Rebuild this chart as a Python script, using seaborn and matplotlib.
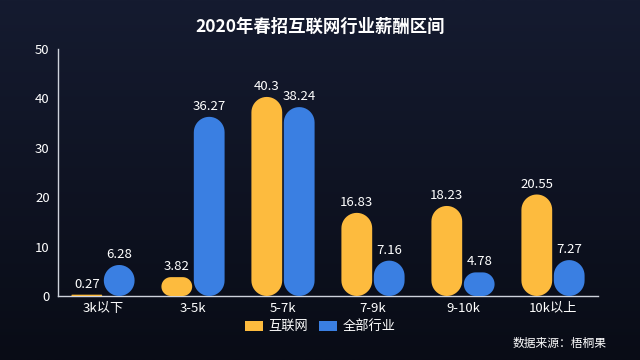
import numpy as np
import pandas as pd
import seaborn as sns
import matplotlib.pyplot as plt
from matplotlib.patches import Polygon, FancyBboxPatch
from matplotlib.colors import LinearSegmentedColormap

# Data
categories = ["3k以下", "3-5k", "5-7k", "7-9k", "9-10k", "10k以上"]
internet = [0.27, 3.82, 40.3, 16.83, 18.23, 20.55]
all_industry = [6.28, 36.27, 38.24, 7.16, 4.78, 7.27]
series_names = ["互联网", "全部行业"]
y_ticks = [0, 10, 20, 30, 40, 50]

df = pd.DataFrame({
    "区间": categories * 2,
    "行业": [series_names[0]] * len(categories) + [series_names[1]] * len(categories),
    "比例": internet + all_industry,
})

palette = {"互联网": "#FDBB3E", "全部行业": "#3A7FE2"}

sns.set_style("dark")
plt.rcParams["font.family"] = ["Noto Sans CJK SC", "DejaVu Sans"]

fig = plt.figure(figsize=(6.4, 3.6), dpi=100)
# dark night-sky background
bg = fig.add_axes([0, 0, 1, 1], zorder=-10)
grad = np.linspace(0, 1, 256).reshape(-1, 1)
bg.imshow(grad, aspect="auto", extent=[0, 1, 0, 1], origin="upper",
          cmap=LinearSegmentedColormap.from_list("sky", ["#151b30", "#090c16"]))
bg.axis("off")

ax = fig.add_axes([58 / 640, 64 / 360, 540 / 640, 247 / 360])
ax.set_facecolor("none")

sns.barplot(data=df, x="区间", y="比例", hue="行业", hue_order=series_names,
            palette=palette, width=0.72, gap=0.05, legend=False, ax=ax,
            saturation=1, err_kws={"linewidth": 0})

ax.set_xlim(-0.5, len(categories) - 0.5)
ax.set_ylim(0, 50)

# pixel size of one data unit, used to keep the corners circular
bbox = ax.get_position()
x_per_px = len(categories) / (bbox.width * 640)
y_per_px = 50 / (bbox.height * 360)


def capsule(x0, w, h):
    # rounded rectangle outline, corner radius = half the shorter side (in pixels)
    r_px = min(w / x_per_px, h / y_per_px) / 2
    rx, ry = r_px * x_per_px, r_px * y_per_px
    x1 = x0 + w
    pts = []
    corners = [(x1 - rx, h - ry, 0), (x0 + rx, h - ry, 90),
               (x0 + rx, ry, 180), (x1 - rx, ry, 270)]
    for cx, cy, start in corners:
        t = np.radians(np.linspace(start, start + 90, 12))
        pts += list(zip(cx + rx * np.cos(t), cy + ry * np.sin(t)))
    return pts


bars = list(ax.patches)
for p in bars:
    x, w, h = p.get_x(), p.get_width(), p.get_height()
    color = p.get_facecolor()
    p.remove()
    ax.add_patch(Polygon(capsule(x, w, h), closed=True, facecolor=color,
                         edgecolor="none", zorder=3))
    ax.text(x + w / 2, h + 0.8, "%g" % h, ha="center", va="bottom",
            color="white", fontsize=9.5)

# axes styling
for side in ["top", "right"]:
    ax.spines[side].set_visible(False)
for side in ["left", "bottom"]:
    ax.spines[side].set_visible(True)
    ax.spines[side].set_color("#cfd3dc")
    ax.spines[side].set_linewidth(1)
ax.grid(False)
ax.set_yticks(y_ticks)
ax.set_xticks(range(len(categories)))
ax.set_xticklabels(categories)
ax.set_xticks(np.arange(-0.5, len(categories), 1), minor=True)
ax.tick_params(axis="x", which="major", length=0, colors="white", labelsize=9.5, pad=4)
ax.tick_params(axis="x", which="minor", length=4, color="#cfd3dc", direction="in")
ax.tick_params(axis="y", length=4, color="#cfd3dc", labelcolor="white", labelsize=9.5, pad=2)
ax.set_xlabel(None)
ax.set_ylabel(None)

fig.text(0.5, 0.925, "2020年春招互联网行业薪酬区间", ha="center", va="center",
         color="white", fontsize=12.5, fontweight="bold")

# legend with rounded square handles
handles = [FancyBboxPatch((0, 0), 1, 1, boxstyle="round,pad=0,rounding_size=0.3",
                          facecolor=palette[n], edgecolor="none") for n in series_names]
fig.legend(handles, series_names, loc="center", bbox_to_anchor=(0.5, 0.092),
           ncol=2, frameon=False, fontsize=9.5, labelcolor="white",
           handlelength=1.4, handleheight=0.8, handletextpad=0.4, columnspacing=0.8)

fig.text(0.947, 0.047, "数据来源：梧桐果", ha="right", va="center",
         color="white", fontsize=8.5)

fig.savefig("out.png", dpi=100)
